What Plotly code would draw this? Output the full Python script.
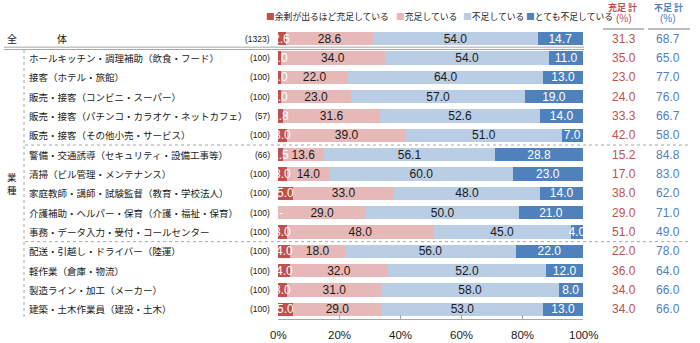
import plotly.graph_objects as go

# ---------------- data ----------------
categories = [
    "全体",
    "ホールキッチン・調理補助（飲食・フード）",
    "接客（ホテル・旅館）",
    "販売・接客（コンビニ・スーパー）",
    "販売・接客（パチンコ・カラオケ・ネットカフェ）",
    "販売・接客（その他小売・サービス）",
    "警備・交通誘導（セキュリティ・設備工事等）",
    "清掃（ビル管理・メンテナンス）",
    "家庭教師・講師・試験監督（教育・学校法人）",
    "介護補助・ヘルパー・保育（介護・福祉・保育）",
    "事務・データ入力・受付・コールセンター",
    "配送・引越し・ドライバー（陸運）",
    "軽作業（倉庫・物流）",
    "製造ライン・加工（メーカー）",
    "建築・土木作業員（建設・土木）",
]
counts = ["(1323)", "(100)", "(100)", "(100)", "(57)", "(100)", "(66)", "(100)",
          "(100)", "(100)", "(100)", "(100)", "(100)", "(100)", "(100)"]
series_names = ["余剰が出るほど充足している", "充足している", "不足している", "とても不足している"]
v_surplus = [2.6, 1.0, 1.0, 1.0, 1.8, 3.0, 1.5, 3.0, 5.0, 0.0, 3.0, 4.0, 4.0, 3.0, 5.0]
v_enough = [28.6, 34.0, 22.0, 23.0, 31.6, 39.0, 13.6, 14.0, 33.0, 29.0, 48.0, 18.0, 32.0, 31.0, 29.0]
v_short = [54.0, 54.0, 64.0, 57.0, 52.6, 51.0, 56.1, 60.0, 48.0, 50.0, 45.0, 56.0, 52.0, 58.0, 53.0]
v_very = [14.7, 11.0, 13.0, 19.0, 14.0, 7.0, 28.8, 23.0, 14.0, 21.0, 4.0, 22.0, 12.0, 8.0, 13.0]
total_enough = [31.3, 35.0, 23.0, 24.0, 33.3, 42.0, 15.2, 17.0, 38.0, 29.0, 51.0, 22.0, 36.0, 34.0, 34.0]
total_short = [68.7, 65.0, 77.0, 76.0, 66.7, 58.0, 84.8, 83.0, 62.0, 71.0, 49.0, 78.0, 64.0, 66.0, 66.0]
x_ticks = [0, 20, 40, 60, 80, 100]
x_ticktext = ["0%", "20%", "40%", "60%", "80%", "100%"]

# ---------------- style ----------------
W, H = 700, 343
ML, MR, MT, MB = 278, 117, 29, 24
PW, PH = W - ML - MR, H - MT - MB
JP = "Noto Sans CJK JP"
NUM = "Liberation Sans, Arial"
colors = ["#C0504D", "#E6B9B8", "#B9CDE5", "#4F81BD"]
text_colors = ["#FFFFFF", "#1A1A1A", "#1A1A1A", "#FFFFFF"]
RED_TXT = "#C0504D"
BLUE_TXT = "#4F81BD"
GRAY = "#A6A6A6"
DARK = "#1A1A1A"


def px(xp):
    return (xp - ML) / PW


def py(yp):
    return (H - MB - yp) / PH


def fmt(v):
    return "-" if v == 0 else f"{v:.1f}"


n = len(categories)
ypos = list(range(n))

fig = go.Figure()
all_vals = [v_surplus, v_enough, v_short, v_very]
for k, (name, vals, col, tcol) in enumerate(zip(series_names, all_vals, colors, text_colors)):
    fig.add_trace(go.Bar(
        y=ypos, x=vals, orientation="h", name=name,
        marker=dict(color=col, line=dict(width=0)),
        width=0.68,
        # first series' labels overflow onto the next segment -> drawn as annotations below
        text=None if k == 0 else [fmt(v) for v in vals],
        textposition="inside", insidetextanchor="middle",
        constraintext="none", textangle=0,
        textfont=dict(family=NUM, size=12, color=tcol),
        cliponaxis=False, showlegend=False,
    ))

ann = []
shapes = []


def A(**kw):
    kw.setdefault("showarrow", False)
    kw.setdefault("xanchor", "center")
    kw.setdefault("yanchor", "middle")
    ann.append(kw)


# labels of the small first segment (drawn on top so they overflow like the original)
for i, v in enumerate(v_surplus):
    A(x=v / 2 if v > 0 else 1, y=i, xref="x", yref="y", text=fmt(v),
      font=dict(family=NUM, size=12, color="#FFFFFF"))

# category labels & counts & totals
for i, (c, cnt) in enumerate(zip(categories, counts)):
    if i == 0:
        A(x=px(12), y=i, xref="paper", yref="y", text=c[0], font=dict(family=JP, size=10, color=DARK))
        A(x=px(62), y=i, xref="paper", yref="y", text=c[1], font=dict(family=JP, size=10, color=DARK))
    else:
        A(x=px(27), y=i, xref="paper", yref="y", text=c, xanchor="left",
          font=dict(family=JP, size=9.5, color=DARK))
    A(x=px(272), y=i, xref="paper", yref="y", text=cnt, xanchor="right",
      font=dict(family=NUM, size=8.5, color=DARK))
    A(x=px(624), y=i, xref="paper", yref="y", text=f"{total_enough[i]:.1f}",
      font=dict(family=NUM, size=12, color=RED_TXT))
    A(x=px(668), y=i, xref="paper", yref="y", text=f"{total_short[i]:.1f}",
      font=dict(family=NUM, size=12, color=BLUE_TXT))

# x tick labels (placed a little lower than Plotly's default)
for t, tt in zip(x_ticks, x_ticktext):
    A(x=t, y=py(335), xref="x", yref="paper", text=tt,
      font=dict(family=NUM, size=11.5, color=DARK))

# 業種 vertical label
A(x=px(12), y=py(177), xref="paper", yref="paper", text="業", font=dict(family=JP, size=9.5, color=DARK))
A(x=px(12), y=py(190), xref="paper", yref="paper", text="種", font=dict(family=JP, size=9.5, color=DARK))

# column headers
A(x=px(622), y=py(7), xref="paper", yref="paper", text="<b>充足 計</b>",
  font=dict(family=JP, size=9, color=RED_TXT))
A(x=px(624), y=py(19), xref="paper", yref="paper", text="(%)",
  font=dict(family=NUM, size=10, color=RED_TXT))
A(x=px(668), y=py(7), xref="paper", yref="paper", text="<b>不足 計</b>",
  font=dict(family=JP, size=9, color=BLUE_TXT))
A(x=px(668), y=py(19), xref="paper", yref="paper", text="(%)",
  font=dict(family=NUM, size=10, color=BLUE_TXT))

# legend (custom)
leg_x = [264, 394, 461, 524]
for xx, name, col in zip(leg_x, series_names, colors):
    A(x=px(xx), y=py(17), xref="paper", yref="paper", xanchor="left",
      text=f"<span style='color:{col}'>■</span>{name}",
      font=dict(family=JP, size=8.8, color=DARK))

# header underlines
for x0, x1 in [(603, 644), (648, 690)]:
    shapes.append(dict(type="line", xref="paper", yref="paper", x0=px(x0), x1=px(x1),
                       y0=py(29), y1=py(29), line=dict(color=GRAY, width=1.5)))

# double line under total row
for d in (-0.06, 0.06):
    shapes.append(dict(type="line", xref="paper", yref="y", x0=px(4), x1=px(584),
                       y0=0.5 + d, y1=0.5 + d, line=dict(color=GRAY, width=1)))

# dotted group separators
for yy in (5.5, 10.5):
    shapes.append(dict(type="line", xref="paper", yref="y", x0=px(25), x1=px(690),
                       y0=yy, y1=yy, line=dict(color=GRAY, width=1, dash="dot")))
shapes.append(dict(type="line", xref="paper", yref="paper", x0=px(24), x1=px(24),
                   y0=py(50), y1=py(320), line=dict(color=GRAY, width=1, dash="dot")))

fig.update_layout(
    barmode="stack",
    width=W, height=H,
    margin=dict(l=ML, r=MR, t=MT, b=MB, pad=0),
    paper_bgcolor="white", plot_bgcolor="white",
    annotations=ann, shapes=shapes,
    showlegend=False,
    xaxis=dict(range=[0, 100], tickvals=x_ticks, showticklabels=False,
               ticks="inside", ticklen=4, tickcolor=GRAY, showline=True, linecolor=GRAY,
               linewidth=1, showgrid=False, zeroline=False),
    yaxis=dict(range=[n - 0.5, -0.5], showticklabels=False, showgrid=False,
               zeroline=False, showline=False, ticks=""),
)

fig.write_html("out.html")
